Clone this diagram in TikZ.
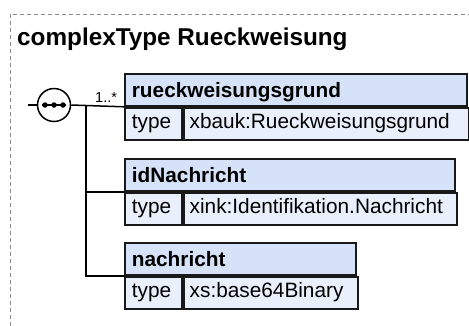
\documentclass[tikz,border=0pt]{standalone}
\usepackage{fontspec}
\setmainfont{Liberation Sans}
\begin{document}
\begin{tikzpicture}[x=1pt,y=-1pt,
  frame/.style={draw=black!45,line width=1pt,dash pattern=on 4pt off 3pt},
  conn/.style={draw=black,line width=1.5pt},
  cell/.style={draw=black!90,line width=1.8pt,minimum height=32pt,inner ysep=0pt,
    anchor=north west,align=left,font=\fontsize{20.8}{24}\selectfont},
  hdr/.style={cell,fill=hdrblue,inner xsep=7pt,text height=15pt,text depth=0pt,
    font=\fontsize{20.8}{24}\selectfont\bfseries},
  tcell/.style={cell,fill=rowblue,inner xsep=7pt,text width=43pt,text height=14pt,text depth=4pt},
  vcell/.style={cell,fill=rowblue,inner xsep=6pt,text height=14pt,text depth=4pt},
  seqsym/.style={circle,draw=black,line width=1.5pt,fill=white,minimum size=33pt,inner sep=0pt},
  dot/.style={circle,fill=black,minimum size=5.5pt,inner sep=0pt}
]
\definecolor{hdrblue}{HTML}{D5E2F8}
\definecolor{rowblue}{HTML}{E9F0FC}
\useasboundingbox (0,0) rectangle (469,325);
\begin{scope}
  \clip (0,0) rectangle (469,325);
  % outer complexType frame, running past the page edges
  \draw[frame] (10,340) -- (10,14) -- (480,14);
\end{scope}

\node[anchor=base west,inner sep=0pt,font=\fontsize{24.3}{28}\selectfont\bfseries]
  (title) at (17,45) {complexType Rueckweisung};

% sequence compositor
\coordinate (in) at (28,105);
\node[seqsym] (seq) at (54,105) {};
\node[dot] (d1) at (45,105) {};
\node[dot] (d2) at (54,105) {};
\node[dot] (d3) at (63,105) {};
\draw[line width=1.5pt] (42,105) -- (66,105);
\draw[conn] (in) -- (seq.west);

% element rueckweisungsgrund
\node[hdr,text width=328pt] (b1h) at (124,73) {rueckweisungsgrund};
\node[tcell] (b1t) at (b1h.south west) {type};
\node[vcell,text width=273pt] (b1v) at (b1t.north east) {xbauk:Rueckweisungsgrund};

% element idNachricht
\node[hdr,text width=316pt] (b2h) at (124,158) {idNachricht};
\node[tcell] (b2t) at (b2h.south west) {type};
\node[vcell,text width=261pt] (b2v) at (b2t.north east) {xink:Identifikation.Nachricht};

% element nachricht
\node[hdr,text width=217pt] (b3h) at (124,242) {nachricht};
\node[tcell] (b3t) at (b3h.south west) {type};
\node[vcell,text width=162pt] (b3v) at (b3t.north east) {xs:base64Binary};

% connectors
\coordinate (fork) at (86,105);
\draw[conn] (seq.east) -- (b1h.south west);
\draw[conn] (fork) |- (b2h.south west);
\draw[conn] (fork) |- (b3h.south west);

\node[anchor=base west,inner sep=0pt,font=\fontsize{14.5}{16}\selectfont]
  (mult) at (95,102) {1..*};
\end{tikzpicture}
\end{document}
